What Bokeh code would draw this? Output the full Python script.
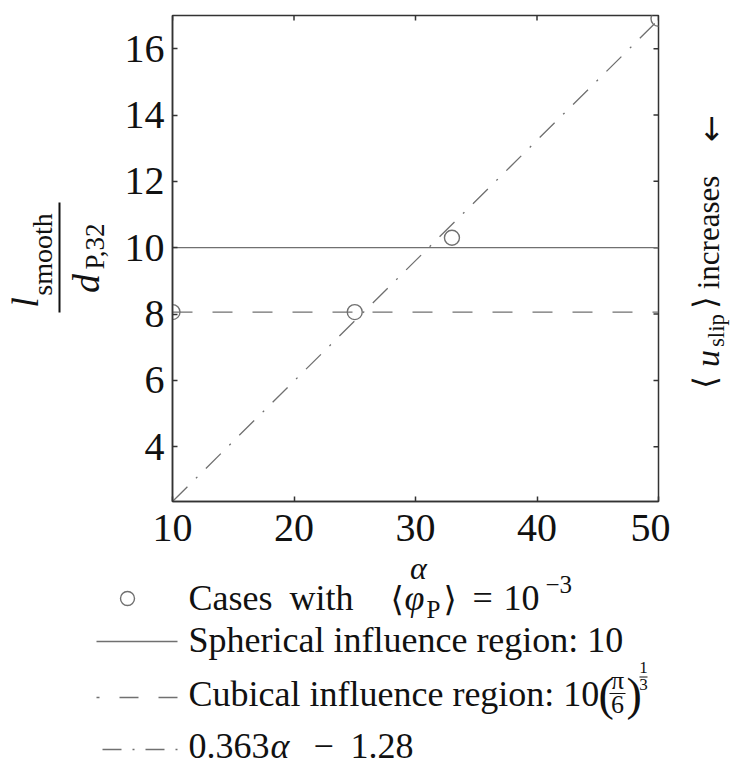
import math
from bokeh.plotting import figure
from bokeh.models import Range1d
from bokeh.layouts import row, column
from bokeh.core.properties import value
from bokeh.embed import file_html
from bokeh.resources import INLINE

# ---------------- data ----------------
case_alpha = [10, 25, 33, 50]
case_ratio = [8.06, 8.06, 10.3, 16.9]
spherical_ratio = 10.0
cubical_ratio = 8.06
fit_alpha = [10, 50]
fit_ratio = [2.35, 16.87]
x_ticks = [10, 20, 30, 40, 50]
y_ticks = [4, 6, 8, 10, 12, 14, 16]
x_lim = (10, 50)
y_lim = (2.35, 17)

SERIF = "Liberation Serif"
MATHF = "DejaVu Sans"
GRAY = "#707070"
AX = "#333333"
TXT = "#111111"
MID = {SERIF: 0.3375, MATHF: 0.346}   # baseline -> vertical middle of the text box (em)

TOP_H = 560          # height of the top row (plot + side labels)
FRAME_T, FRAME_B = 15, 501   # frame edges inside the top row (px from its top)


def _text(fig, x, y, s, size, italic, font, align, angle):
    fig.text(x=[x], y=[y], text=[s], text_font=value(font),
             text_font_size=value(f"{size}px"),
             text_font_style=value("italic" if italic else "normal"),
             text_align=value(align), text_baseline=value("middle"),
             angle=angle, text_color=TXT)


def htext(fig, x, baseline, s, size, italic=False, font=SERIF, align="left"):
    """horizontal text, positioned by its baseline (screen-like coords, y down)"""
    _text(fig, x, baseline - MID[font] * size, s, size, italic, font, align, 0.0)


def vtext(fig, cx, cy, s, size, italic=False, font=SERIF):
    """text rotated 90 deg (reads bottom to top), positioned by its centre"""
    _text(fig, cx, cy, s, size, italic, font, "center", math.pi / 2)


def blank(w, h, top=0, bottom=0):
    f = figure(width=w, height=h, x_range=Range1d(0, w), y_range=Range1d(h - bottom, top),
               toolbar_location=None, output_backend="svg",
               min_border_left=0, min_border_right=0,
               min_border_top=top, min_border_bottom=bottom,
               x_axis_type=None, y_axis_type=None, outline_line_color=None)
    f.grid.visible = False
    return f


# ---------------- main plot ----------------
p = figure(width=552, height=TOP_H, x_range=Range1d(*x_lim), y_range=Range1d(*y_lim),
           toolbar_location=None, output_backend="svg",
           min_border_left=54, min_border_right=12,
           min_border_top=FRAME_T, min_border_bottom=TOP_H - FRAME_B)
p.grid.visible = False
p.outline_line_color = AX
p.outline_line_width = 1.5
p.background_fill_color = "white"
p.border_fill_color = "white"

for ax, ticks in ((p.xaxis[0], x_ticks), (p.yaxis[0], y_ticks)):
    ax.ticker = ticks
    ax.minor_tick_line_color = None
    ax.major_tick_in = 5
    ax.major_tick_out = 0
    ax.major_tick_line_color = AX
    ax.major_tick_line_width = 1.5
    ax.axis_line_color = AX
    ax.axis_line_width = 1.5
    ax.major_label_text_font = SERIF
    ax.major_label_text_font_size = "40px"
    ax.major_label_text_color = TXT
p.xaxis.major_label_standoff = 13
p.yaxis.major_label_standoff = 8

# inward ticks on the top and right edges of the box
p.ray(x=x_ticks, y=[y_lim[1]] * len(x_ticks), length=5, length_units="screen",
      angle=-math.pi / 2, line_color=AX, line_width=1.5)
p.ray(x=[x_lim[1]] * len(y_ticks), y=y_ticks, length=5, length_units="screen",
      angle=math.pi, line_color=AX, line_width=1.5)

p.line(fit_alpha, fit_ratio, line_color=GRAY, line_width=1.3, line_dash="21 12 2 12")
p.line(list(x_lim), [spherical_ratio, spherical_ratio], line_color=GRAY, line_width=1.3)
p.line(list(x_lim), [cubical_ratio, cubical_ratio], line_color=GRAY, line_width=1.3,
       line_dash="20 20")
p.scatter(case_alpha, case_ratio, marker="circle", size=15, fill_color=None,
          line_color=GRAY, line_width=1.4)

# ---------------- y label (left): l_smooth / d_P,32 ----------------
yl = blank(118, TOP_H, FRAME_T, TOP_H - FRAME_B)
vtext(yl, 24, 302, "l", 38, italic=True)
vtext(yl, 41.5, 254, "smooth", 28)
yl.line([59, 59], [202, 312], line_color=TXT, line_width=2)
vtext(yl, 85, 283, "d", 38, italic=True)
vtext(yl, 94, 246, "P,32", 27)

# ---------------- right label: <u_slip> increases <- ----------------
rl = blank(80, TOP_H, FRAME_T, TOP_H - FRAME_B)
vtext(rl, 34, 382, "⟨", 32, font=MATHF)
vtext(rl, 36.5, 358, "u", 34, italic=True)
vtext(rl, 46, 330, "slip", 23)
vtext(rl, 34, 302, "⟩", 32, font=MATHF)
vtext(rl, 37.5, 232, "increases", 31)
vtext(rl, 40, 128, "←", 32, font=MATHF)

# ---------------- legend (below) ----------------
q = blank(750, 207)
htext(q, 418, 18, "α", 32, italic=True, align="center")
# row 1
q.scatter([127], [38], marker="circle", size=14, fill_color=None, line_color=GRAY, line_width=1.4)
htext(q, 188, 50, "Cases", 36)
htext(q, 289, 50, "with", 36)
htext(q, 390, 50, "⟨", 34, font=MATHF)
htext(q, 404, 50, "φ", 36, italic=True)
htext(q, 426, 57, "P", 25)
htext(q, 443, 50, "⟩", 34, font=MATHF)
htext(q, 472, 50, "=", 36)
htext(q, 503, 50, "10", 36)
htext(q, 545, 32, "−3", 25)
# row 2
q.line([96, 177], [81, 81], line_color=GRAY, line_width=1.3)
htext(q, 188, 92, "Spherical influence region: 10", 36)
# row 3
q.line([177, 96], [137, 137], line_color=GRAY, line_width=1.3, line_dash="19 20")
htext(q, 188, 146, "Cubical influence region: 10", 36)
htext(q, 598, 150, "(", 46)
htext(q, 617, 129, "π", 26, align="center")
q.line([609, 625], [133, 133], line_color=TXT, line_width=1.2)
htext(q, 617, 153, "6", 26, align="center")
htext(q, 626, 150, ")", 46)
htext(q, 643, 113, "1", 17, align="center")
q.line([639, 647], [116.5, 116.5], line_color=TXT, line_width=1)
htext(q, 643, 130, "3", 17, align="center")
# row 4
q.line([177, 96], [189, 189], line_color=GRAY, line_width=1.3, line_dash="2 11 19 11")
htext(q, 188, 198, "0.363", 36)
htext(q, 270, 198, "α", 36, italic=True)
htext(q, 313, 198, "−", 36)
htext(q, 350, 198, "1.28", 36)

layout = column(row(yl, p, rl), q)
open("out.html", "w").write(file_html(layout, INLINE))
